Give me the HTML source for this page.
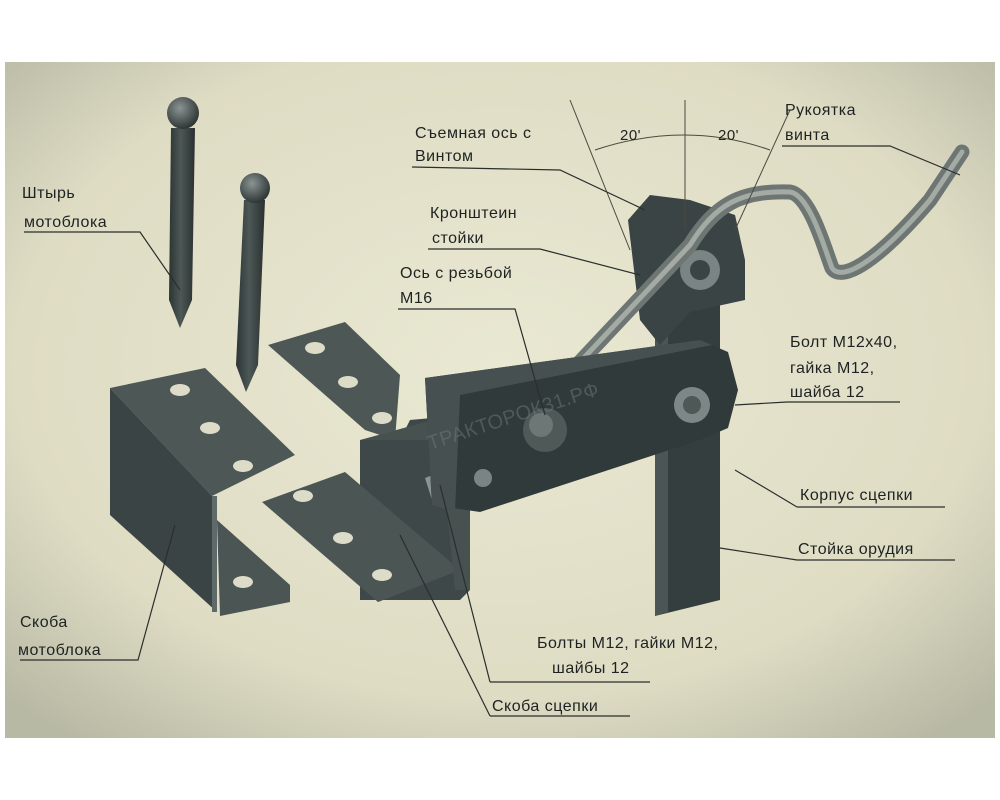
<!DOCTYPE html>
<html><head><meta charset="utf-8"><style>
html,body{margin:0;padding:0;background:#fff;width:1000px;height:800px;overflow:hidden}
svg{display:block}
text{font-family:"Liberation Sans",sans-serif;font-size:16px;fill:#1e2222;letter-spacing:0.5px}
</style></head><body>
<svg width="1000" height="800" viewBox="0 0 1000 800">
<defs>
<radialGradient id="bg" cx="50%" cy="45%" r="70%">
<stop offset="0" stop-color="#e9e8d2"/><stop offset="0.7" stop-color="#dfdcc4"/><stop offset="1" stop-color="#b8b9a4"/>
</radialGradient>
<linearGradient id="pin" x1="0" x2="1"><stop offset="0" stop-color="#2c3434"/><stop offset="0.45" stop-color="#4c5856"/><stop offset="1" stop-color="#2a3030"/></linearGradient>
<radialGradient id="ball" cx="40%" cy="35%" r="65%"><stop offset="0" stop-color="#8a9492"/><stop offset="1" stop-color="#2e3636"/></radialGradient>
</defs>
<rect x="0" y="0" width="1000" height="800" fill="#fff"/>
<rect x="5" y="62" width="990" height="676" fill="url(#bg)"/>

<!-- pins -->
<path d="M171,128 L195,128 L192,300 L180,328 L169,300 Z" fill="url(#pin)"/>
<circle cx="183" cy="113" r="16" fill="url(#ball)"/>
<path d="M244,200 L265,200 L258,365 L246,392 L236,365 Z" fill="url(#pin)"/>
<circle cx="255" cy="188" r="15" fill="url(#ball)"/>

<!-- left bracket -->
<polygon points="110,388 205,368 295,455 212,496" fill="#4d5756"/>
<polygon points="110,388 212,496 217,612 110,515" fill="#3b4444"/>
<polygon points="212,496 217,496 217,612 212,612" fill="#5e6a68"/>
<polygon points="217,520 290,585 290,602 220,616" fill="#4a5554"/>
<g fill="#dcdcc8"><ellipse cx="180" cy="390" rx="10" ry="6"/><ellipse cx="210" cy="428" rx="10" ry="6"/><ellipse cx="243" cy="466" rx="10" ry="6"/><ellipse cx="243" cy="582" rx="10" ry="6"/></g>

<!-- stoika (behind) -->
<polygon points="655,300 720,290 720,600 655,616" fill="#343e3e"/>
<polygon points="655,300 668,298 668,612 655,616" fill="#4a5554"/>

<!-- right bracket -->
<polygon points="268,345 345,322 400,375 395,440 365,430" fill="#4d5756"/>
<polygon points="360,440 400,440 410,420 465,415 470,590 460,600 360,600" fill="#3e4848"/>
<polygon points="262,502 345,472 460,570 378,602" fill="#4a5554"/>
<polygon points="360,440 440,418 470,430 470,590 455,590 440,440" fill="#465150"/>
<g fill="#dcdcc8"><ellipse cx="315" cy="348" rx="10" ry="6"/><ellipse cx="348" cy="382" rx="10" ry="6"/><ellipse cx="382" cy="418" rx="10" ry="6"/><ellipse cx="303" cy="496" rx="10" ry="6"/><ellipse cx="343" cy="538" rx="10" ry="6"/><ellipse cx="382" cy="575" rx="10" ry="6"/></g>
<polygon points="425,478 440,472 447,490 432,500" fill="#8a9494"/>

<!-- upper bracket (kronshtein) -->
<polygon points="628,220 650,195 690,200 735,215 745,260 745,300 690,312 660,345 640,320" fill="#3a4444"/>
<circle cx="700" cy="270" r="20" fill="#7a8482"/>
<circle cx="700" cy="270" r="10" fill="#3a4444"/>
<!-- handle -->
<path d="M565,378 L690,245 C715,205 740,190 790,192 C810,195 825,250 832,268 C840,280 870,270 930,200 L962,152" fill="none" stroke="#6e7674" stroke-width="15" stroke-linecap="round"/>
<path d="M565,378 L690,245 C715,205 740,190 790,192 C810,195 825,250 832,268 C840,280 870,270 930,200 L962,152" fill="none" stroke="#a4aaa4" stroke-width="5" stroke-linecap="round"/>

<!-- body -->
<polygon points="425,378 700,340 728,352 738,390 728,428 700,440 480,512 432,505" fill="#303a3a"/>
<polygon points="425,378 700,340 712,345 460,395 455,512 432,505" fill="#465050"/>
<!-- bolts -->
<circle cx="545" cy="430" r="22" fill="#4f5a58"/><circle cx="541" cy="425" r="12" fill="#6d7876"/>
<circle cx="692" cy="405" r="18" fill="#7d8785"/><circle cx="692" cy="405" r="9" fill="#4e5856"/>
<circle cx="483" cy="478" r="9" fill="#7a8482"/>

<!-- watermark -->
<text x="430" y="450" transform="rotate(-18 430 450)" style="fill:#6c7878;font-size:20px;opacity:.5">ТРАКТОРОК31.РФ</text>

<!-- angle -->
<g stroke="#4a4a40" fill="none" stroke-width="1">
<path d="M595,150 Q685,120 770,150"/>
<line x1="570" y1="100" x2="630" y2="250"/><line x1="685" y1="100" x2="685" y2="230"/><line x1="790" y1="110" x2="735" y2="230"/>
</g>
<text x="620" y="140" style="font-size:15px">20'</text><text x="718" y="140" style="font-size:15px">20'</text>

<!-- leader lines -->
<g stroke="#2a2e2e" fill="none" stroke-width="1.2">
<path d="M24,232 L140,232 L180,290"/>
<path d="M412,167 L560,170 L645,210"/>
<path d="M782,146 L890,146 L960,175"/>
<path d="M428,249 L540,249 L640,275"/>
<path d="M398,309 L515,309 L545,415"/>
<path d="M787,402 L900,402 M787,402 L735,405"/>
<path d="M797,507 L945,507 M797,507 L735,470"/>
<path d="M797,560 L955,560 M797,560 L720,548"/>
<path d="M490,682 L650,682 M490,682 L440,485"/>
<path d="M490,716 L630,716 M490,716 L400,535"/>
<path d="M20,660 L138,660 L175,525"/>
</g>

<!-- labels -->
<text x="22" y="198">Штырь</text><text x="24" y="227">мотоблока</text>
<text x="415" y="138">Съемная ось с</text><text x="415" y="161">Винтом</text>
<text x="785" y="115">Рукоятка</text><text x="785" y="140">винта</text>
<text x="430" y="218">Кронштеин</text><text x="432" y="243">стойки</text>
<text x="400" y="278">Ось с резьбой</text><text x="400" y="303">М16</text>
<text x="790" y="347">Болт М12х40,</text><text x="790" y="373">гайка М12,</text><text x="790" y="397">шайба 12</text>
<text x="800" y="500">Корпус сцепки</text>
<text x="798" y="554">Стойка орудия</text>
<text x="537" y="648">Болты М12, гайки М12,</text><text x="552" y="673">шайбы 12</text>
<text x="20" y="627">Скоба</text><text x="18" y="655">мотоблока</text>
<text x="492" y="711">Скоба сцепки</text>
</svg>
</body></html>
